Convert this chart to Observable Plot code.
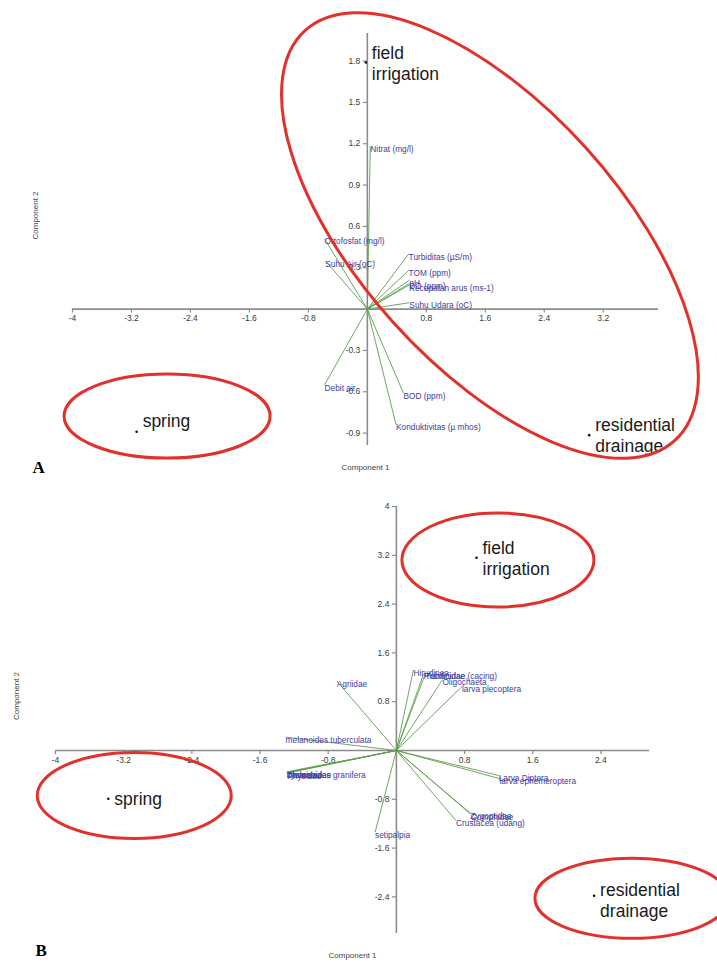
<!DOCTYPE html>
<html><head><meta charset="utf-8">
<script src="https://cdn.jsdelivr.net/npm/d3@7"></script>
<script src="https://cdn.jsdelivr.net/npm/@observablehq/plot@0.6"></script>
<style>body{margin:0;background:#fff} #chart svg{display:block}</style>
</head><body><div id="chart"></div>
<script>
// ---------- Panel A (environmental variables) ----------
const varsA = ["Nitrat (mg/l)", "Ortofosfat (mg/l)", "Suhu Air (oC)", "Turbiditas (µS/m)", "TOM (ppm)", "pH", "DO (ppm)", "Kecepatan arus (ms-1)", "Suhu Udara (oC)", "Debit air", "BOD (ppm)", "Konduktivitas (µ mhos)"];
const pc1A = [0.04, -0.58, -0.57, 0.56, 0.56, 0.57, 0.57, 0.57, 0.57, -0.58, 0.49, 0.39];
const pc2A = [1.18, 0.51, 0.35, 0.40, 0.28, 0.21, 0.185, 0.175, 0.046, -0.55, -0.61, -0.84];
const sitesA = ["field\nirrigation", "spring", "residential\ndrainage"];
const siteXA = [-0.02, -3.13, 3.01];
const siteYA = [1.79, -0.89, -0.915];
const xTicksA = [-4, -3.2, -2.4, -1.6, -0.8, 0.8, 1.6, 2.4, 3.2];
const xTickLabelsA = ["-4", "-3.2", "-2.4", "-1.6", "-0.8", "0.8", "1.6", "2.4", "3.2"];
const yTicksA = [1.8, 1.5, 1.2, 0.9, 0.6, 0.3, -0.3, -0.6, -0.9];
const yTickLabelsA = ["1.8", "1.5", "1.2", "0.9", "0.6", "0.3", "-0.3", "-0.6", "-0.9"];

// ---------- Panel B (macroinvertebrates) ----------
const varsB = ["Hirudinea", "Planariidae", "Tubificidae (cacing)", "Oligochaeta", "larva plecoptera", "Agriidae", "melanoides tuberculata", "Lymnaeidae", "Thiaridae", "Physidae", "melanoides granifera", "setipalpia", "Larva Diptera", "larva ephemeroptera", "Zygoptidae", "Gomphidae", "Crustacea (udang)"];
const pc1B = [0.20, 0.32, 0.34, 0.54, 0.77, -0.70, -1.30, -1.29, -1.28, -1.28, -1.27, -0.25, 1.20, 1.21, 0.87, 0.87, 0.70];
const pc2B = [1.32, 1.26, 1.26, 1.16, 1.05, 1.14, 0.22, -0.35, -0.36, -0.37, -0.36, -1.34, -0.41, -0.46, -1.03, -1.04, -1.15];
const sitesB = ["field\nirrigation", "spring", "residential\ndrainage"];
const siteXB = [0.94, -3.38, 2.32];
const siteYB = [3.16, -0.79, -2.38];
const xTicksB = [-4, -3.2, -2.4, -1.6, -0.8, 0.8, 1.6, 2.4];
const xTickLabelsB = ["-4", "-3.2", "-2.4", "-1.6", "-0.8", "0.8", "1.6", "2.4"];
const yTicksB = [4, 3.2, 2.4, 1.6, 0.8, -0.8, -1.6, -2.4];
const yTickLabelsB = ["4", "3.2", "2.4", "1.6", "0.8", "-0.8", "-1.6", "-2.4"];

// ---------- layout / annotation config ----------
const configA = {
  letter: "A", height: 480, ml: 72, mr: 59, mt: 33, mb: 35,
  xDomain: [-4, 3.95], yDomain: [-0.99, 2.0],
  vars: varsA, pc1: pc1A, pc2: pc2A,
  sites: sitesA, sx: siteXA, sy: siteYA, siteDy: [0, -11, 0],
  xTicks: xTicksA, xLabels: xTickLabelsA, yTicks: yTicksA, yLabels: yTickLabelsA,
  ellipses: [{cx: 1.67, cy: 0.53, rx: 276, ry: 130, angle: 48}, {cx: -2.71, cy: -0.78, rx: 103, ry: 42, angle: 0}],
  xTitleDy: 24, yTitleDx: -37, letterDx: -40, letterDy: 27, xLabelDy: 9
};
const configB = {
  letter: "B", height: 483, ml: 55, mr: 68, mt: 26, mb: 30,
  xDomain: [-4, 2.97], yDomain: [-3, 4],
  vars: varsB, pc1: pc1B, pc2: pc2B,
  sites: sitesB, sx: siteXB, sy: siteYB, siteDy: [0, 0, 4],
  xTicks: xTicksB, xLabels: xTickLabelsB, yTicks: yTicksB, yLabels: yTickLabelsB,
  ellipses: [{cx: 1.197, cy: 3.115, rx: 96, ry: 47, angle: 0}, {cx: -3.07, cy: -0.746, rx: 97, ry: 43, angle: 0}, {cx: 2.77, cy: -2.43, rx: 97, ry: 40, angle: 0}],
  xTitleDy: 24, yTitleDx: -39, letterDx: -20, letterDy: 22, xLabelDy: 10
};

const AXIS = "#8c8c8c", GREEN = "#5f9f50", LABEL = "#3d3d9e", RED = "#e2312b";
const FONT = "Liberation Sans, Arial, sans-serif";

function panel(o) {
  const vec = o.vars.map((name, i) => ({name, x: o.pc1[i], y: o.pc2[i]}));
  const sites = o.sites.map((name, i) => ({name, x: o.sx[i], y: o.sy[i], dy: o.siteDy[i]}));
  const xt = o.xTicks.map((v, i) => ({v, label: o.xLabels[i]}));
  const yt = o.yTicks.map((v, i) => ({v, label: o.yLabels[i]}));
  const ellipseMark = (index, scales) => {
    const g = d3.create("svg:g").attr("fill", "none").attr("stroke", RED).attr("stroke-width", 3);
    for (const e of o.ellipses) {
      const cx = scales.x(e.cx), cy = scales.y(e.cy);
      g.append("ellipse").attr("cx", cx).attr("cy", cy).attr("rx", e.rx).attr("ry", e.ry)
        .attr("transform", `rotate(${e.angle} ${cx} ${cy})`);
    }
    return g.node();
  };
  return Plot.plot({
    width: 717, height: o.height,
    marginLeft: o.ml, marginRight: o.mr, marginTop: o.mt, marginBottom: o.mb,
    x: {domain: o.xDomain, axis: null},
    y: {domain: o.yDomain, axis: null},
    style: {fontFamily: FONT, background: "white", overflow: "hidden"},
    marks: [
      Plot.ruleY([0], {x1: o.xDomain[0], x2: o.xDomain[1], stroke: AXIS, strokeWidth: 1.6}),
      Plot.ruleX([0], {y1: o.yDomain[0], y2: o.yDomain[1], stroke: AXIS, strokeWidth: 1.6}),
      Plot.ruleX(xt, {x: "v", y1: 0, y2: 0, insetBottom: -4, stroke: AXIS, strokeWidth: 1.2}),
      Plot.ruleY(yt, {y: "v", x1: 0, x2: 0, insetLeft: -4, stroke: AXIS, strokeWidth: 1.2}),
      Plot.text(xt, {x: "v", y: 0, dy: o.xLabelDy, text: "label", fontSize: 8.5, fill: "#3a3a3a"}),
      Plot.text(yt, {x: 0, y: "v", dx: -7, textAnchor: "end", text: "label", fontSize: 8.5, fill: "#3a3a3a"}),
      Plot.link(vec, {x1: 0, y1: 0, x2: "x", y2: "y", stroke: GREEN, strokeWidth: 1, strokeOpacity: 0.9}),
      Plot.text(vec, {x: "x", y: "y", text: "name", textAnchor: "start", dy: 3, fontSize: 8.3, fill: LABEL}),
      Plot.dot(sites, {x: "x", y: "y", r: 1.3, fill: "#111", stroke: null}),
      ...sites.map(s => Plot.text([s], {x: "x", y: "y", text: "name", textAnchor: "start", dx: 6, dy: s.dy, fontSize: 17.5, lineHeight: 1.2, fill: "#1a1a1a"})),
      ellipseMark,
      Plot.text(["Component 1"], {text: d => d, frameAnchor: "bottom", dy: o.xTitleDy, fontSize: 8, fill: "#444"}),
      Plot.text(["Component 2"], {text: d => d, frameAnchor: "left", dx: o.yTitleDx, rotate: -90, fontSize: 8, fill: "#444"}),
      Plot.text([o.letter], {text: d => d, frameAnchor: "bottom-left", textAnchor: "start", dx: o.letterDx, dy: o.letterDy, fontSize: 17, fontWeight: "bold", fontFamily: "Liberation Serif, Times New Roman, serif", fill: "#000"})
    ]
  });
}

const root = document.getElementById("chart");
root.append(panel(configA));
root.append(panel(configB));
</script></body></html>
